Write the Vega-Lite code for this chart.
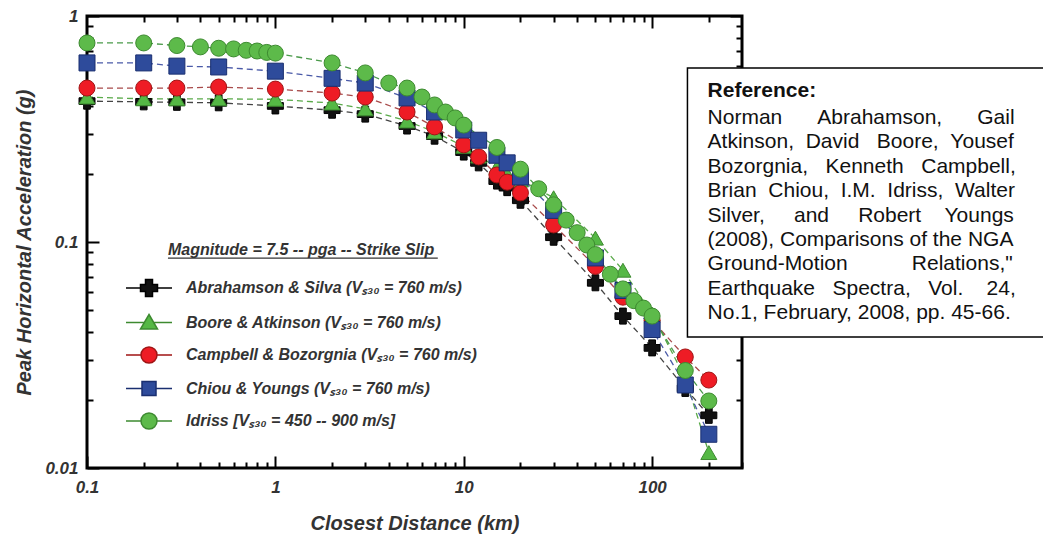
{
 "$schema": "https://vega.github.io/schema/vega-lite/v6.json",
 "width": 655, "height": 452,
 "autosize": {"type": "none"},
 "padding": {"left": 87, "top": 16, "right": 301, "bottom": 67},
 "background": "white",
 "config": {"view": {"stroke": "black", "strokeWidth": 3}, "font": "Liberation Sans"},
 "data": {"values": [
  {"s":"Abrahamson & Silva","d":0.1,"g":0.42},{"s":"Abrahamson & Silva","d":0.2,"g":0.417},{"s":"Abrahamson & Silva","d":0.3,"g":0.415},{"s":"Abrahamson & Silva","d":0.5,"g":0.413},{"s":"Abrahamson & Silva","d":1,"g":0.40},{"s":"Abrahamson & Silva","d":2,"g":0.383},{"s":"Abrahamson & Silva","d":3,"g":0.368},{"s":"Abrahamson & Silva","d":5,"g":0.326},{"s":"Abrahamson & Silva","d":7,"g":0.294},{"s":"Abrahamson & Silva","d":10,"g":0.25},{"s":"Abrahamson & Silva","d":12,"g":0.224},{"s":"Abrahamson & Silva","d":15,"g":0.186},{"s":"Abrahamson & Silva","d":17,"g":0.174},{"s":"Abrahamson & Silva","d":20,"g":0.153},{"s":"Abrahamson & Silva","d":30,"g":0.105},{"s":"Abrahamson & Silva","d":50,"g":0.066},{"s":"Abrahamson & Silva","d":70,"g":0.047},{"s":"Abrahamson & Silva","d":100,"g":0.034},{"s":"Abrahamson & Silva","d":150,"g":0.0225},{"s":"Abrahamson & Silva","d":200,"g":0.0171},
  {"s":"Boore & Atkinson","d":0.1,"g":0.438},{"s":"Boore & Atkinson","d":0.2,"g":0.43},{"s":"Boore & Atkinson","d":0.3,"g":0.43},{"s":"Boore & Atkinson","d":0.5,"g":0.43},{"s":"Boore & Atkinson","d":1,"g":0.428},{"s":"Boore & Atkinson","d":2,"g":0.412},{"s":"Boore & Atkinson","d":3,"g":0.388},{"s":"Boore & Atkinson","d":5,"g":0.343},{"s":"Boore & Atkinson","d":7,"g":0.307},{"s":"Boore & Atkinson","d":10,"g":0.265},{"s":"Boore & Atkinson","d":12,"g":0.24},{"s":"Boore & Atkinson","d":15,"g":0.214},{"s":"Boore & Atkinson","d":17,"g":0.2},{"s":"Boore & Atkinson","d":20,"g":0.188},{"s":"Boore & Atkinson","d":30,"g":0.157},{"s":"Boore & Atkinson","d":50,"g":0.104},{"s":"Boore & Atkinson","d":70,"g":0.075},{"s":"Boore & Atkinson","d":100,"g":0.048},{"s":"Boore & Atkinson","d":150,"g":0.025},{"s":"Boore & Atkinson","d":200,"g":0.0117},
  {"s":"Campbell & Bozorgnia","d":0.1,"g":0.48},{"s":"Campbell & Bozorgnia","d":0.2,"g":0.48},{"s":"Campbell & Bozorgnia","d":0.3,"g":0.48},{"s":"Campbell & Bozorgnia","d":0.5,"g":0.485},{"s":"Campbell & Bozorgnia","d":1,"g":0.475},{"s":"Campbell & Bozorgnia","d":2,"g":0.456},{"s":"Campbell & Bozorgnia","d":3,"g":0.438},{"s":"Campbell & Bozorgnia","d":5,"g":0.376},{"s":"Campbell & Bozorgnia","d":7,"g":0.323},{"s":"Campbell & Bozorgnia","d":10,"g":0.269},{"s":"Campbell & Bozorgnia","d":12,"g":0.238},{"s":"Campbell & Bozorgnia","d":15,"g":0.198},{"s":"Campbell & Bozorgnia","d":17,"g":0.184},{"s":"Campbell & Bozorgnia","d":20,"g":0.165},{"s":"Campbell & Bozorgnia","d":30,"g":0.119},{"s":"Campbell & Bozorgnia","d":50,"g":0.078},{"s":"Campbell & Bozorgnia","d":70,"g":0.057},{"s":"Campbell & Bozorgnia","d":100,"g":0.045},{"s":"Campbell & Bozorgnia","d":150,"g":0.031},{"s":"Campbell & Bozorgnia","d":200,"g":0.0245},
  {"s":"Chiou & Youngs","d":0.1,"g":0.62},{"s":"Chiou & Youngs","d":0.2,"g":0.62},{"s":"Chiou & Youngs","d":0.3,"g":0.60},{"s":"Chiou & Youngs","d":0.5,"g":0.595},{"s":"Chiou & Youngs","d":1,"g":0.57},{"s":"Chiou & Youngs","d":2,"g":0.53},{"s":"Chiou & Youngs","d":3,"g":0.505},{"s":"Chiou & Youngs","d":5,"g":0.434},{"s":"Chiou & Youngs","d":7,"g":0.376},{"s":"Chiou & Youngs","d":10,"g":0.313},{"s":"Chiou & Youngs","d":12,"g":0.282},{"s":"Chiou & Youngs","d":15,"g":0.242},{"s":"Chiou & Youngs","d":17,"g":0.224},{"s":"Chiou & Youngs","d":20,"g":0.194},{"s":"Chiou & Youngs","d":30,"g":0.138},{"s":"Chiou & Youngs","d":50,"g":0.085},{"s":"Chiou & Youngs","d":70,"g":0.061},{"s":"Chiou & Youngs","d":100,"g":0.041},{"s":"Chiou & Youngs","d":150,"g":0.0233},{"s":"Chiou & Youngs","d":200,"g":0.0141},
  {"s":"Idriss","d":0.1,"g":0.76},{"s":"Idriss","d":0.2,"g":0.76},{"s":"Idriss","d":0.3,"g":0.74},{"s":"Idriss","d":0.4,"g":0.73},{"s":"Idriss","d":0.5,"g":0.72},{"s":"Idriss","d":0.6,"g":0.715},{"s":"Idriss","d":0.7,"g":0.705},{"s":"Idriss","d":0.8,"g":0.70},{"s":"Idriss","d":0.9,"g":0.69},{"s":"Idriss","d":1,"g":0.685},{"s":"Idriss","d":2,"g":0.62},{"s":"Idriss","d":3,"g":0.56},{"s":"Idriss","d":4,"g":0.505},{"s":"Idriss","d":5,"g":0.48},{"s":"Idriss","d":6,"g":0.438},{"s":"Idriss","d":7,"g":0.404},{"s":"Idriss","d":8,"g":0.376},{"s":"Idriss","d":9,"g":0.354},{"s":"Idriss","d":10,"g":0.329},{"s":"Idriss","d":15,"g":0.262},{"s":"Idriss","d":20,"g":0.21},{"s":"Idriss","d":25,"g":0.172},{"s":"Idriss","d":30,"g":0.146},{"s":"Idriss","d":35,"g":0.125},{"s":"Idriss","d":40,"g":0.11},{"s":"Idriss","d":45,"g":0.097},{"s":"Idriss","d":50,"g":0.088},{"s":"Idriss","d":60,"g":0.072},{"s":"Idriss","d":70,"g":0.062},{"s":"Idriss","d":80,"g":0.055},{"s":"Idriss","d":90,"g":0.051},{"s":"Idriss","d":100,"g":0.047},{"s":"Idriss","d":150,"g":0.027},{"s":"Idriss","d":200,"g":0.0198}
 ]},
 "layer": [
  {
   "mark": {"type": "line", "strokeDash": [6, 4], "strokeWidth": 1.3},
   "encoding": {
    "x": {"field": "d", "type": "quantitative",
     "scale": {"type": "log", "domain": [0.1, 300], "nice": false},
     "axis": {"orient": "bottom", "values": [0.1,1,10,100],
      "labelExpr": "datum.value == 0.1 ? '0.1' : datum.value == 1 ? '1' : datum.value == 10 ? '10' : '100'",
      "tickSize": -12, "tickWidth": 2, "tickColor": "black", "domain": false, "grid": false,
      "labelFont": "Liberation Sans", "labelFontSize": 17, "labelFontWeight": "bold", "labelFontStyle": "italic", "labelColor": "#333333",
      "labelPadding": 23, "labelFlush": false, "labelOverlap": false,
      "title": "Closest Distance (km)", "titleFont": "Liberation Sans", "titleFontSize": 20, "titleFontWeight": "bold", "titleFontStyle": "italic", "titleColor": "#333333", "titlePadding": 18}},
    "y": {"field": "g", "type": "quantitative",
     "scale": {"type": "log", "domain": [0.01, 1], "nice": false},
     "axis": {"orient": "left", "values": [0.01,0.1,1],
      "labelExpr": "datum.value == 0.01 ? '0.01' : datum.value == 0.1 ? '0.1' : '1'",
      "tickSize": -12, "tickWidth": 2, "tickColor": "black", "domain": false, "grid": false,
      "labelFont": "Liberation Sans", "labelFontSize": 17, "labelFontWeight": "bold", "labelFontStyle": "italic", "labelColor": "#333333",
      "labelPadding": 21, "labelOverlap": false, "labelFlush": false,
      "title": "Peak Horizontal Acceleration (g)", "titleFont": "Liberation Sans", "titleFontSize": 20, "titleFontWeight": "bold", "titleFontStyle": "italic", "titleColor": "#333333", "titlePadding": 10}},
    "color": {"field": "s", "type": "nominal",
     "scale": {"domain": ["Abrahamson & Silva","Boore & Atkinson","Campbell & Bozorgnia","Chiou & Youngs","Idriss"], "range": ["#444444","#5aaa4a","#a84a4a","#4a5aa8","#4a9a4a"]},
     "legend": null}
   }
  },
  {
   "mark": {"type": "point", "filled": true, "opacity": 1, "size": 256, "strokeWidth": 1},
   "encoding": {
    "x": {"field": "d", "type": "quantitative",
     "axis": {"orient": "bottom", "values": [0.2,0.3,0.4,0.5,0.6,0.7,0.8,0.9,2,3,4,5,6,7,8,9,20,30,40,50,60,70,80,90,200,300],
      "labels": false, "tickSize": -6, "tickWidth": 2, "tickColor": "black", "domain": false, "grid": false, "title": null}},
    "y": {"field": "g", "type": "quantitative",
     "axis": {"orient": "left", "values": [0.02,0.03,0.04,0.05,0.06,0.07,0.08,0.09,0.2,0.3,0.4,0.5,0.6,0.7,0.8,0.9],
      "labels": false, "tickSize": -6, "tickWidth": 2, "tickColor": "black", "domain": false, "grid": false, "title": null}},
    "fill": {"field": "s", "type": "nominal", "legend": null,
     "scale": {"domain": ["Abrahamson & Silva","Boore & Atkinson","Campbell & Bozorgnia","Chiou & Youngs","Idriss"], "range": ["#111111","#55b845","#ee1c25","#2e4b9b","#5dba4a"]}},
    "stroke": {"field": "s", "type": "nominal", "legend": null,
     "scale": {"domain": ["Abrahamson & Silva","Boore & Atkinson","Campbell & Bozorgnia","Chiou & Youngs","Idriss"], "range": ["#000000","#3d8a30","#a01515","#1a2f70","#3d8a30"]}},
    "shape": {"field": "s", "type": "nominal", "legend": null,
     "scale": {"domain": ["Abrahamson & Silva","Boore & Atkinson","Campbell & Bozorgnia","Chiou & Youngs","Idriss"], "range": ["M-0.42,-1H0.42V-0.42H1V0.42H0.42V1H-0.42V0.42H-1V-0.42H-0.42Z","triangle-up","circle","square","circle"]}}
   }
  },
  {
   "transform": [{"filter": "datum.d < 0"}],
   "mark": {"type": "point", "filled": true, "opacity": 1, "size": 400, "strokeWidth": 1.5},
   "encoding": {
    "x": {"field": "d", "type": "quantitative",
     "axis": {"orient": "top", "values": [1,10,100],
      "labels": false, "tickSize": -12, "tickWidth": 2, "tickColor": "black", "domain": false, "grid": false, "title": null}},
    "y": {"field": "g", "type": "quantitative",
     "axis": {"orient": "right", "values": [0.1,1],
      "labels": false, "tickSize": -12, "tickWidth": 2, "tickColor": "black", "domain": false, "grid": false, "title": null}},
    "fill": {"field": "s", "type": "nominal",
     "scale": {"domain": ["Abrahamson & Silva","Boore & Atkinson","Campbell & Bozorgnia","Chiou & Youngs","Idriss"], "range": ["#111111","#55b845","#ee1c25","#2e4b9b","#5dba4a"]},
     "legend": {"orient": "none", "legendX": 51, "legendY": 261, "padding": 0, "title": null,
      "labelFont": "Liberation Sans", "labelFontSize": 16, "labelFontWeight": "bold", "labelFontStyle": "italic", "labelColor": "#333333", "labelOffset": 26, "labelLimit": 500,
      "labelExpr": "datum.label + (datum.label == 'Idriss' ? ' [Vₛ₃₀ = 450 -- 900 m/s]' : ' (Vₛ₃₀ = 760 m/s)')",
      "symbolSize": 400, "rowPadding": 11.5, "symbolStrokeWidth": 1.5, "symbolOpacity": 1}},
    "stroke": {"field": "s", "type": "nominal",
     "scale": {"domain": ["Abrahamson & Silva","Boore & Atkinson","Campbell & Bozorgnia","Chiou & Youngs","Idriss"], "range": ["#000000","#3d8a30","#a01515","#1a2f70","#3d8a30"]}},
    "shape": {"field": "s", "type": "nominal",
     "scale": {"domain": ["Abrahamson & Silva","Boore & Atkinson","Campbell & Bozorgnia","Chiou & Youngs","Idriss"], "range": ["M-2.3,0H-0.85M0.85,0H2.3M-0.35,-0.85H0.35V-0.35H0.85V0.35H0.35V0.85H-0.35V0.35H-0.85V-0.35H-0.35Z","M-2.3,0H-0.47M0.47,0H2.3M0,-0.8L0.85,0.65H-0.85Z","M-2.3,0H-0.8M0.8,0H2.3M0.8,0A0.8,0.8,0,1,1,-0.8,0A0.8,0.8,0,1,1,0.8,0Z","M-2.3,0H-0.7M0.7,0H2.3M-0.7,-0.7H0.7V0.7H-0.7Z","M-2.3,0H-0.8M0.8,0H2.3M0.8,0A0.8,0.8,0,1,1,-0.8,0A0.8,0.8,0,1,1,0.8,0Z"]}}
   }
  },
  {
   "data": {"values": [{"x1": 0.269, "x2": 7.28, "y": 0.0849}]},
   "mark": {"type": "rule", "color": "#333333", "strokeWidth": 1.2},
   "encoding": {
    "x": {"field": "x1", "type": "quantitative",
     "axis": {"orient": "top", "values": [0.2,0.3,0.4,0.5,0.6,0.7,0.8,0.9,2,3,4,5,6,7,8,9,20,30,40,50,60,70,80,90,200],
      "labels": false, "tickSize": -6, "tickWidth": 2, "tickColor": "black", "domain": false, "grid": false, "title": null}},
    "x2": {"field": "x2"},
    "y": {"field": "y", "type": "quantitative",
     "axis": {"orient": "right", "values": [0.02,0.03,0.04,0.05,0.06,0.07,0.08,0.09,0.2,0.3,0.4,0.5,0.6,0.7,0.8,0.9],
      "labels": false, "tickSize": -6, "tickWidth": 2, "tickColor": "black", "domain": false, "grid": false, "title": null}}
   }
  },
  {
   "data": {"values": [{"x": 0.269, "y": 0.0922, "t": "Magnitude = 7.5 -- pga -- Strike Slip"}]},
   "mark": {"type": "text", "align": "left", "baseline": "middle", "font": "Liberation Sans", "fontSize": 16, "fontWeight": "bold", "fontStyle": "italic", "color": "#333333"},
   "encoding": {
    "x": {"field": "x", "type": "quantitative", "axis": null},
    "y": {"field": "y", "type": "quantitative", "axis": null},
    "text": {"field": "t"}
   }
  },
  {
   "data": {"values": [{"x1": 154, "x2": 30000, "y1": 0.038, "y2": 0.589}]},
   "mark": {"type": "rect", "fill": "white", "stroke": "black", "strokeWidth": 1.5},
   "encoding": {
    "x": {"field": "x1", "type": "quantitative", "axis": null},
    "x2": {"field": "x2"},
    "y": {"field": "y1", "type": "quantitative", "axis": null},
    "y2": {"field": "y2"}
   }
  },
  {
   "data": {"values": [{"x": 197, "y": 0.466, "t": "Reference:"}]},
   "mark": {"type": "text", "align": "left", "baseline": "middle", "font": "Liberation Sans", "fontSize": 21, "fontWeight": "bold", "color": "#111111"},
   "encoding": {
    "x": {"field": "x", "type": "quantitative", "axis": null},
    "y": {"field": "y", "type": "quantitative", "axis": null},
    "text": {"field": "t"}
   }
  },
  {
   "data": {"values": [{"x": 197, "y": 0.396, "t": ["Norman\u00a0\u00a0\u00a0\u00a0\u00a0\u00a0Abrahamson,\u00a0\u00a0\u00a0\u00a0\u00a0\u00a0Gail", "Atkinson,\u00a0\u00a0David\u00a0\u00a0\u00a0Boore,\u00a0\u00a0Yousef", "Bozorgnia,\u00a0\u00a0\u00a0Kenneth\u00a0\u00a0\u00a0Campbell,", "Brian\u00a0\u00a0Chiou,\u00a0\u00a0I.M.\u00a0\u00a0Idriss,\u00a0\u00a0Walter", "Silver,\u00a0\u00a0\u00a0\u00a0\u00a0and\u00a0\u00a0\u00a0\u00a0\u00a0Robert\u00a0\u00a0\u00a0\u00a0Youngs", "(2008), Comparisons of the NGA", "Ground-Motion\u00a0\u00a0\u00a0\u00a0\u00a0\u00a0\u00a0\u00a0\u00a0\u00a0\u00a0Relations,\"", "Earthquake\u00a0\u00a0\u00a0Spectra,\u00a0\u00a0\u00a0Vol.\u00a0\u00a0\u00a0\u00a024,", "No.1, February, 2008, pp. 45-66."]}]},
   "mark": {"type": "text", "align": "left", "baseline": "top", "font": "Liberation Sans", "fontSize": 21, "lineHeight": 24.4, "color": "#111111"},
   "encoding": {
    "x": {"field": "x", "type": "quantitative", "axis": null},
    "y": {"field": "y", "type": "quantitative", "axis": null},
    "text": {"field": "t"}
   }
  }
 ],
 "resolve": {"axis": {"x": "independent", "y": "independent"}, "scale": {"fill": "independent", "stroke": "independent", "shape": "independent"}}
}
